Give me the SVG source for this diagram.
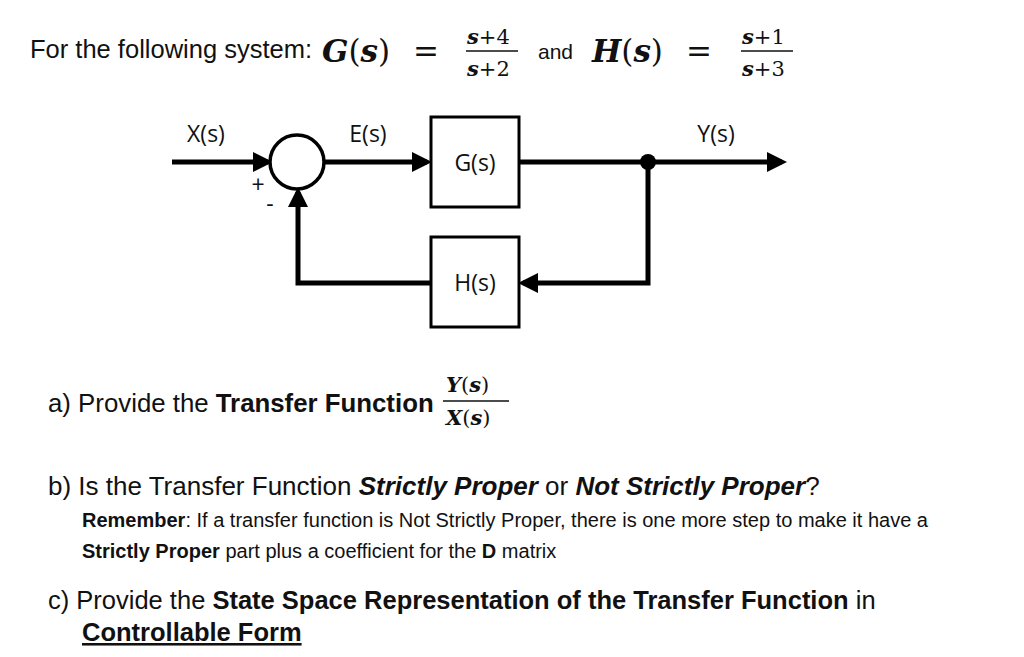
<svg xmlns="http://www.w3.org/2000/svg" width="1024" height="657" viewBox="0 0 1024 657">
<style>
.t{font-family:"Liberation Sans",Arial,sans-serif;fill:#111}
.m{font-family:"DejaVu Serif","Liberation Serif",serif;fill:#111}
.i{font-style:italic;font-weight:bold}
.lbl{font-family:"Open Sans","DejaVu Sans",sans-serif;font-size:23px;fill:#111}
.ln{stroke:#000;stroke-width:5;fill:none}
.box{fill:#fff;stroke:#000;stroke-width:3}
</style>
<defs><marker id="a" markerWidth="4" markerHeight="4" refX="3" refY="2" orient="auto" markerUnits="strokeWidth" viewBox="0 0 4 4"><path d="M0,0 L4,2 L0,4 z" fill="#000"/></marker></defs>
<rect width="1024" height="657" fill="#fff"/>
<text class="t" x="30" y="58" font-size="25.5">For the following system:</text>
<text class="m" x="322" y="62" font-size="31"><tspan class="i">G</tspan>(<tspan class="i">s</tspan>)</text>
<text class="m" x="413" y="62" font-size="31">=</text>
<text class="m" x="467" y="44" font-size="21"><tspan class="i">s</tspan>+4</text>
<line x1="466" y1="51" x2="518" y2="51" stroke="#111" stroke-width="1.5"/>
<text class="m" x="467" y="76" font-size="21"><tspan class="i">s</tspan>+2</text>
<text class="t" x="538" y="59" font-size="21">and</text>
<text class="m" x="592" y="62" font-size="31"><tspan class="i">H</tspan>(<tspan class="i">s</tspan>)</text>
<text class="m" x="686" y="62" font-size="31">=</text>
<text class="m" x="742" y="44" font-size="21"><tspan class="i">s</tspan>+1</text>
<line x1="741" y1="51" x2="793" y2="51" stroke="#111" stroke-width="1.5"/>
<text class="m" x="742" y="76" font-size="21"><tspan class="i">s</tspan>+3</text>
<g id="connectors">
<line class="ln" x1="172" y1="162" x2="268" y2="162" marker-end="url(#a)"/>
<line class="ln" x1="324" y1="162" x2="427" y2="162" marker-end="url(#a)"/>
<line class="ln" x1="519" y1="162" x2="782" y2="162" marker-end="url(#a)"/>
<polyline class="ln" points="648,162 648,283 523,283" marker-end="url(#a)"/>
<polyline class="ln" points="431,283 298,283 298,192" marker-end="url(#a)"/>
<circle cx="648" cy="162" r="8" fill="#000"/>
</g>
<g id="sum"><circle cx="297" cy="162" r="27" fill="#fff" stroke="#000" stroke-width="3.5"/></g>
<g id="G"><rect class="box" x="431" y="117" width="88" height="90"/><text class="lbl" x="475" y="171" text-anchor="middle">G(s)</text></g>
<g id="H"><rect class="box" x="431" y="237" width="88" height="90"/><text class="lbl" x="475" y="291" text-anchor="middle">H(s)</text></g>
<text class="lbl" x="206" y="142" text-anchor="middle">X(s)</text>
<text class="lbl" x="368" y="142" text-anchor="middle">E(s)</text>
<text class="lbl" x="716" y="142" text-anchor="middle">Y(s)</text>
<text class="lbl" x="258" y="193" text-anchor="middle">+</text>
<text class="lbl" x="270" y="212" text-anchor="middle">-</text>
<text class="t" x="48" y="412" font-size="25.8">a) Provide the <tspan font-weight="bold">Transfer Function</tspan></text>
<text class="m" x="446" y="392" font-size="21"><tspan class="i">Y</tspan>(<tspan class="i">s</tspan>)</text>
<line x1="443" y1="401" x2="509" y2="401" stroke="#111" stroke-width="1.5"/>
<text class="m" x="446" y="425" font-size="21"><tspan class="i">X</tspan>(<tspan class="i">s</tspan>)</text>
<text class="t" x="48" y="495" font-size="26">b) Is the Transfer Function <tspan font-weight="bold" font-style="italic">Strictly Proper</tspan> or <tspan font-weight="bold" font-style="italic">Not Strictly Proper</tspan>?</text>
<text class="t" x="82" y="527" font-size="20">  <tspan font-weight="bold">Remember</tspan>: If a transfer function is Not Strictly Proper, there is one more step to make it have a</text>
<text class="t" x="82" y="558" font-size="20"><tspan font-weight="bold">Strictly Proper</tspan> part plus a coefficient for the <tspan font-weight="bold">D</tspan> matrix</text>
<text class="t" x="48" y="609" font-size="25.5">c) Provide the <tspan font-weight="bold">State Space Representation of the Transfer Function</tspan> in</text>
<text class="t" x="82" y="641" font-size="25.5" font-weight="bold" text-decoration="underline">Controllable Form</text>
</svg>
